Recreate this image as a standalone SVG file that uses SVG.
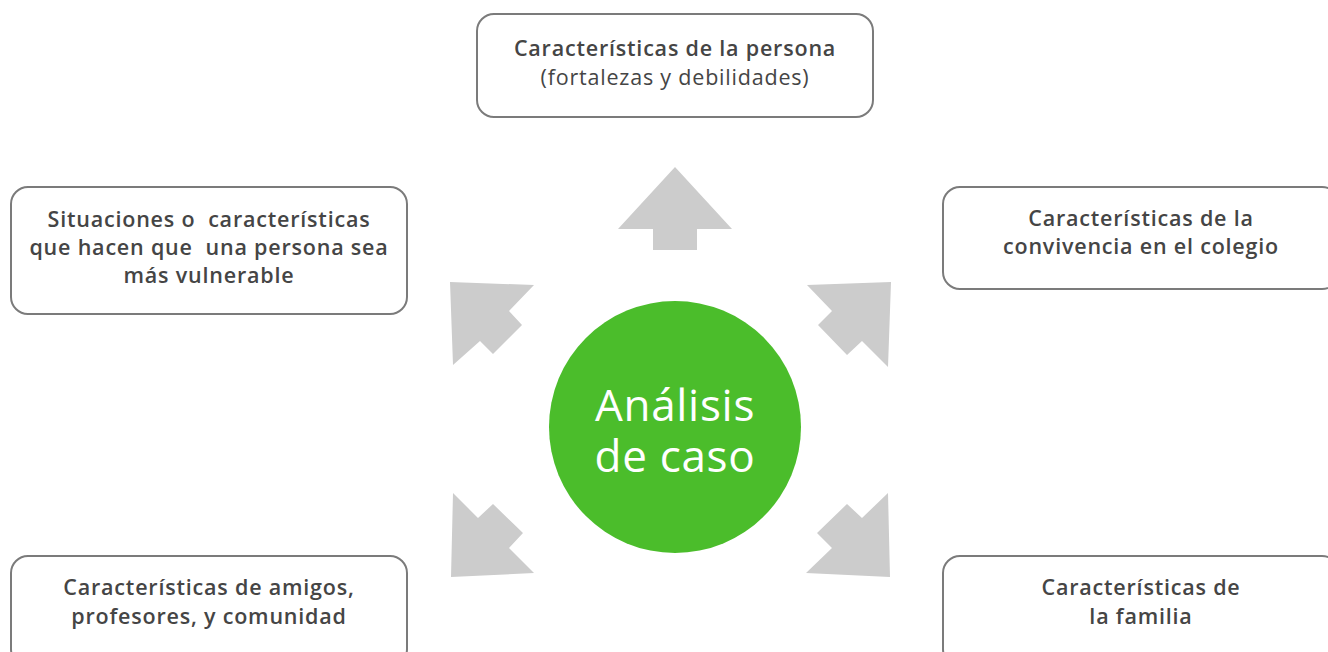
<svg xmlns="http://www.w3.org/2000/svg" width="1328" height="652" viewBox="0 0 1328 652">
<style>
.box{fill:#fff;stroke:#7b7b7b;stroke-width:2}
.t{font-family:"Open Sans","Liberation Sans",sans-serif;font-size:21.5px;font-weight:600;fill:#454545;text-anchor:middle;letter-spacing:0.8px;white-space:pre}
.r{font-weight:400}
.arr{fill:#cccccc}
.c{font-family:"Open Sans","Liberation Sans",sans-serif;font-size:44px;font-weight:500;fill:#fff;text-anchor:middle;letter-spacing:0.7px}
</style>
<rect width="1328" height="652" fill="#fff"/>
<g id="connectors">
<polygon class="arr" points="675,167 732,229 697,229 697,250 653,250 653,229 618,229"/>
<polygon class="arr" points="450,282 534,285 509,311 522,325 493,354 480,341 453,365"/>
<polygon class="arr" points="891,282 807,285 832,311 818,325 847,355 862,341 888,367"/>
<polygon class="arr" points="451,577 453,493 478,518 493,504 523,533 509,548 534,573"/>
<polygon class="arr" points="890,577 888,493 862,518 847,504 817,533 832,548 806,573"/>
</g>
<g id="center">
<circle cx="675" cy="427" r="126" fill="#4bbd2b"/>
<text class="c" x="675" y="421">Análisis</text>
<text class="c" x="675" y="472">de caso</text>
</g>
<g id="persona">
<rect class="box" x="477" y="14" width="396" height="103" rx="17"/>
<text class="t" x="675" y="56">Características de la persona</text>
<text class="t r" x="675" y="85">(fortalezas y debilidades)</text>
</g>
<g id="vulnerable">
<rect class="box" x="11" y="187" width="396" height="127" rx="17"/>
<text class="t" x="209" y="227" xml:space="preserve">Situaciones o  características</text>
<text class="t" x="209" y="255" xml:space="preserve">que hacen que  una persona sea</text>
<text class="t" x="209" y="283">más vulnerable</text>
</g>
<g id="convivencia">
<rect class="box" x="943" y="187" width="396" height="102" rx="17"/>
<text class="t" x="1141" y="226">Características de la</text>
<text class="t" x="1141" y="254">convivencia en el colegio</text>
</g>
<g id="amigos">
<rect class="box" x="11" y="556" width="396" height="110" rx="17"/>
<text class="t" x="209" y="595">Características de amigos,</text>
<text class="t" x="209" y="624">profesores, y comunidad</text>
</g>
<g id="familia">
<rect class="box" x="943" y="556" width="396" height="110" rx="17"/>
<text class="t" x="1141" y="595">Características de</text>
<text class="t" x="1141" y="624">la familia</text>
</g>
</svg>
